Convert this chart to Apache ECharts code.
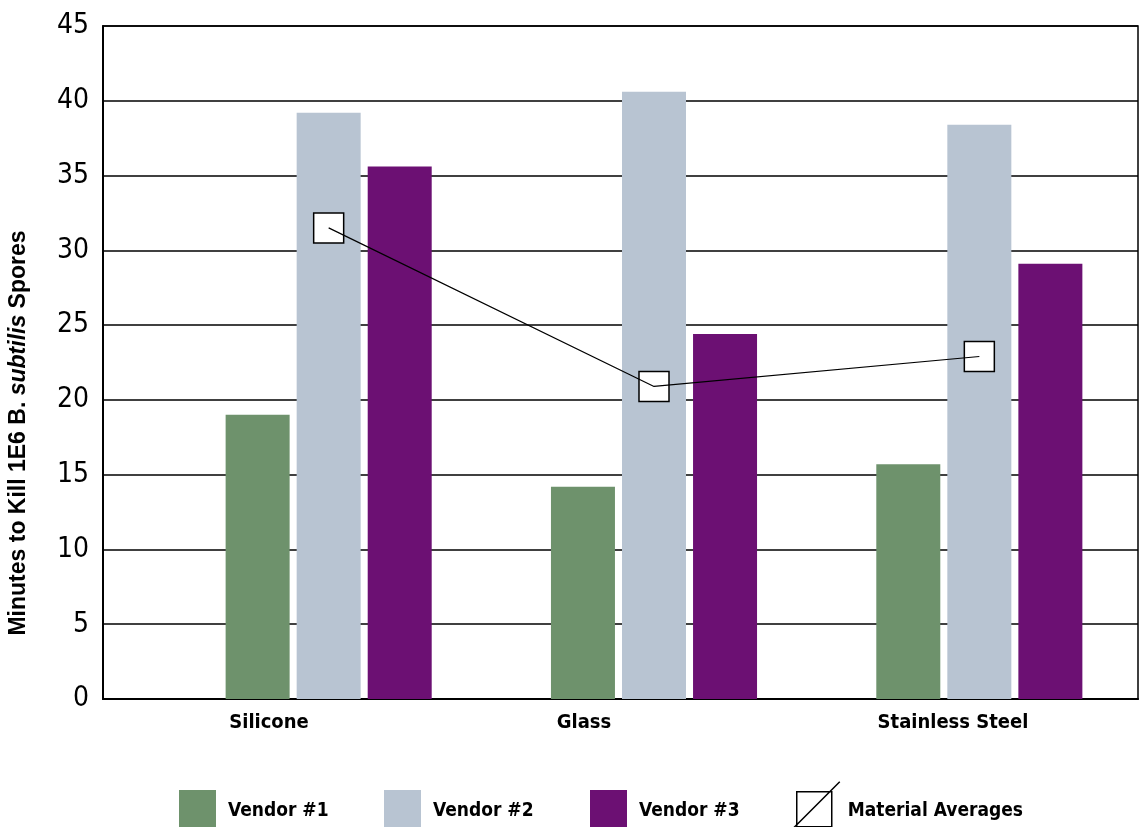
<!DOCTYPE html>
<html>
<head>
<meta charset="utf-8">
<title>Minutes to Kill 1E6 B. subtilis Spores</title>
<script src="https://cdn.jsdelivr.net/npm/echarts@6/dist/echarts.min.js"></script>
<style>
  html, body { margin: 0; padding: 0; background: #fff; }
  #chart { width: 1142px; height: 827px; }
</style>
</head>
<body>
<div id="chart"></div>
<script>
// values
const categories = ['Silicone', 'Glass', 'Stainless Steel']
const vendor1 = [19.0, 14.2, 15.7]
const vendor2 = [39.2, 40.6, 38.4]
const vendor3 = [35.6, 24.4, 29.1]
const materialAverages = [31.5, 20.9, 22.9]
const yMin = 0
const yMax = 45
const yStep = 5

const FONT = '"DejaVu Sans Condensed", "Liberation Sans Narrow", "Arial Narrow", sans-serif'
const colors = { v1: '#6e926c', v2: '#b8c4d2', v3: '#6c1073' }

// the category labels sit a little left of the axis centres in the original
const labelShift = [13, 73, 25]

// one legend per item so each one lands where the original put it
function vendorLegend(name, left) {
  return {
    left,
    top: 790,
    padding: 0,
    itemWidth: 37,
    itemHeight: 37,
    icon: 'rect',
    data: [name],
    formatter: n => `{t|${n}}`,
    textStyle: {
      rich: { t: { fontFamily: FONT, fontWeight: 'bold', fontSize: 19, color: '#000', padding: [6, 0, 0, 7] } }
    }
  }
}

const chart = echarts.init(document.getElementById('chart'))

const option = {
  backgroundColor: '#fff',
  animation: false,
  grid: [
    // frame, grid lines and labels
    { left: 103, top: 26, width: 1035, height: 673, show: true, borderColor: '#000', borderWidth: 1.5, backgroundColor: 'transparent' },
    // bars and averages
    { left: 166, top: 26, width: 978, height: 673 }
  ],
  xAxis: [
    {
      type: 'category',
      gridIndex: 0,
      data: categories,
      axisLine: { lineStyle: { color: '#000', width: 2 } },
      axisTick: { show: false },
      axisLabel: {
        margin: 14,
        formatter: (v, i) => `{s${i}|${v}}`,
        rich: {
          s0: { fontFamily: FONT, fontWeight: 'bold', fontSize: 20, color: '#000', padding: [0, labelShift[0], 0, 0] },
          s1: { fontFamily: FONT, fontWeight: 'bold', fontSize: 20, color: '#000', padding: [0, labelShift[1], 0, 0] },
          s2: { fontFamily: FONT, fontWeight: 'bold', fontSize: 20, color: '#000', padding: [0, labelShift[2], 0, 0] }
        }
      }
    },
    { type: 'category', gridIndex: 1, data: categories, show: false }
  ],
  yAxis: [
    {
      type: 'value',
      gridIndex: 0,
      min: yMin,
      max: yMax,
      interval: yStep,
      axisLine: { show: true, lineStyle: { color: '#000', width: 2 } },
      axisTick: { show: false },
      axisLabel: {
        margin: 14,
        color: '#000',
        fontFamily: FONT,
        fontSize: 28,
        padding: [0, 0, 7, 0]
      },
      splitLine: { lineStyle: { color: '#000', width: 1.5 } }
    },
    { type: 'value', gridIndex: 1, min: yMin, max: yMax, interval: yStep, show: false, splitLine: { show: false } }
  ],
  legend: [
    vendorLegend('Vendor #1', 179),
    vendorLegend('Vendor #2', 384),
    vendorLegend('Vendor #3', 590),
    {
      left: 793,
      top: 781,
      padding: 0,
      itemWidth: 46,
      itemHeight: 46,
      data: [{
        name: 'Material Averages',
        icon: 'path://M3,10 L38,10 L38,45 L3,45 Z M0,46 L46,0',
        itemStyle: { color: '#fff', borderColor: '#000', borderWidth: 1.5 }
      }],
      formatter: n => `{t|${n}}`,
      textStyle: {
        rich: { t: { fontFamily: FONT, fontWeight: 'bold', fontSize: 19, color: '#000', padding: [13, 0, 0, 3] } }
      }
    }
  ],
  graphic: [{
    type: 'text',
    x: 19,
    y: 433,
    rotation: Math.PI / 2,
    style: {
      text: '{b|Minutes to Kill 1E6 B. }{i|subtilis}{b| Spores}',
      align: 'center',
      verticalAlign: 'middle',
      rich: {
        b: { fontFamily: '"Liberation Sans", Arial, sans-serif', fontWeight: 'bold', fontSize: 23, fill: '#000' },
        i: { fontFamily: '"Liberation Sans", Arial, sans-serif', fontWeight: 'bold', fontStyle: 'italic', fontSize: 23, fill: '#000' }
      }
    }
  }],
  series: [
    { name: 'Vendor #1', type: 'bar', xAxisIndex: 1, yAxisIndex: 1, data: vendor1, barWidth: 64, barGap: '11%', itemStyle: { color: colors.v1 } },
    { name: 'Vendor #2', type: 'bar', xAxisIndex: 1, yAxisIndex: 1, data: vendor2, barWidth: 64, barGap: '11%', itemStyle: { color: colors.v2 } },
    { name: 'Vendor #3', type: 'bar', xAxisIndex: 1, yAxisIndex: 1, data: vendor3, barWidth: 64, barGap: '11%', itemStyle: { color: colors.v3 } },
    {
      name: 'Material Averages',
      type: 'scatter',
      xAxisIndex: 1,
      yAxisIndex: 1,
      data: materialAverages,
      symbol: 'rect',
      symbolSize: 30,
      itemStyle: { color: '#fff', borderColor: '#000', borderWidth: 1.5, opacity: 1 },
      z: 3
    },
    {
      name: 'avgLine',
      type: 'line',
      xAxisIndex: 1,
      yAxisIndex: 1,
      data: materialAverages,
      showSymbol: false,
      lineStyle: { color: '#000', width: 1.2 },
      z: 4
    }
  ]
}

chart.setOption(option)
</script>
</body>
</html>
